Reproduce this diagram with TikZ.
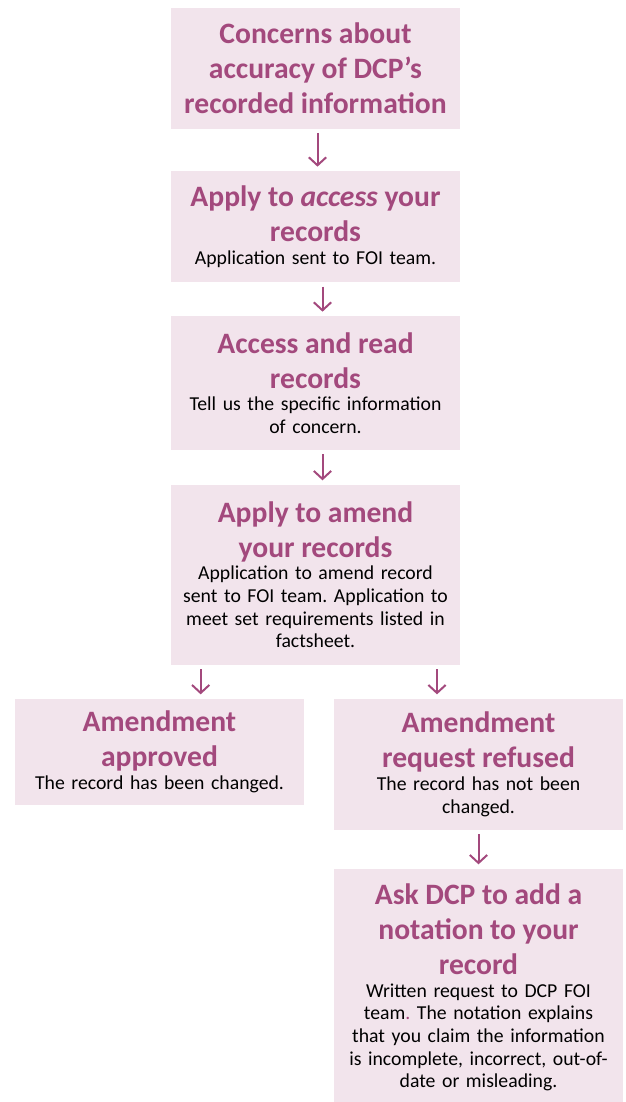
\documentclass[tikz,border=0pt]{standalone}
\usepackage{fontspec}
\setmainfont{Carlito}
\usetikzlibrary{positioning}
\usetikzlibrary{arrows.meta}

\definecolor{dcppink}{RGB}{242,228,236}
\definecolor{dcppurple}{RGB}{163,73,125}

% bold purple heading on top of each box
\newcommand{\stephead}[1]{{\fontsize{22.2}{26.3}\selectfont\bfseries\color{dcppurple}#1\par}}

\begin{document}
\frenchspacing
\begin{tikzpicture}[->,>={Straight Barb[length=6pt,width=13pt]},shorten >=2.5pt,shorten <=2.5pt,line width=1.5pt]
		\tikzstyle{stepbox}=[fill=dcppink,draw=none,text=black,minimum width=216.75pt,text width=212pt,inner sep=2pt,align=center,font=\fontsize{14.8}{17}\selectfont]
		\tikzstyle{flow}=[draw=dcppurple]

		\useasboundingbox (0,0) rectangle (468.75pt,-826.5pt);

		\node[stepbox,minimum height=90.5pt,anchor=north west] (concern) at (127.5pt,-5.25pt)
			{\stephead{Concerns about\\accuracy of DCP’s\\recorded information}};
		\node[stepbox,minimum height=83.5pt] (access) [below=30.25pt of concern]
			{\stephead{Apply to \textit{access} your\\records}Application sent to FOI team.};
		\node[stepbox,minimum height=100.5pt] (read) [below=23.75pt of access]
			{\stephead{Access and read\\records}Tell us the specific information\\of concern.};
		\node[stepbox,minimum height=135pt] (amend) [below=24.5pt of read]
			{\stephead{Apply to amend\\your records}Application to amend record\\sent to FOI team. Application to\\meet set requirements listed in\\factsheet.};
		\node[stepbox,minimum height=80pt] (approved) [below right=24pt and -117pt of amend.south west]
			{\stephead{Amendment\\approved}The record has been changed.};
		\node[stepbox,minimum height=98.5pt] (refused) [below right=24pt and 122.25pt of amend.south west]
			{\stephead{Amendment\\request refused}The record has not been\\changed.};
		\node[stepbox,minimum height=178pt] (notation) [below=27.5pt of refused]
			{\stephead{Ask DCP to add a\\notation to your\\record}Written request to DCP FOI\\team{\color{dcppurple}.} The notation explains\\that you claim the information\\is incomplete, incorrect, out-of-\\date or misleading.};

		\draw[flow] ([xshift=1.5pt]concern.south) -- ([xshift=1.5pt]access.north);
		\draw[flow] ([xshift=5.25pt]access.south) -- ([xshift=5.25pt]read.north);
		\draw[flow] ([xshift=5.25pt]read.south) -- ([xshift=5.25pt]amend.north);
		\draw[flow] ([xshift=23pt]amend.south west) -- ([xshift=23pt]amend.south west |- approved.north);
		\draw[flow] ([xshift=-18pt]amend.south east) -- ([xshift=-18pt]amend.south east |- refused.north);
		\draw[flow] (refused) -- (notation);

	\end{tikzpicture}
\end{document}
